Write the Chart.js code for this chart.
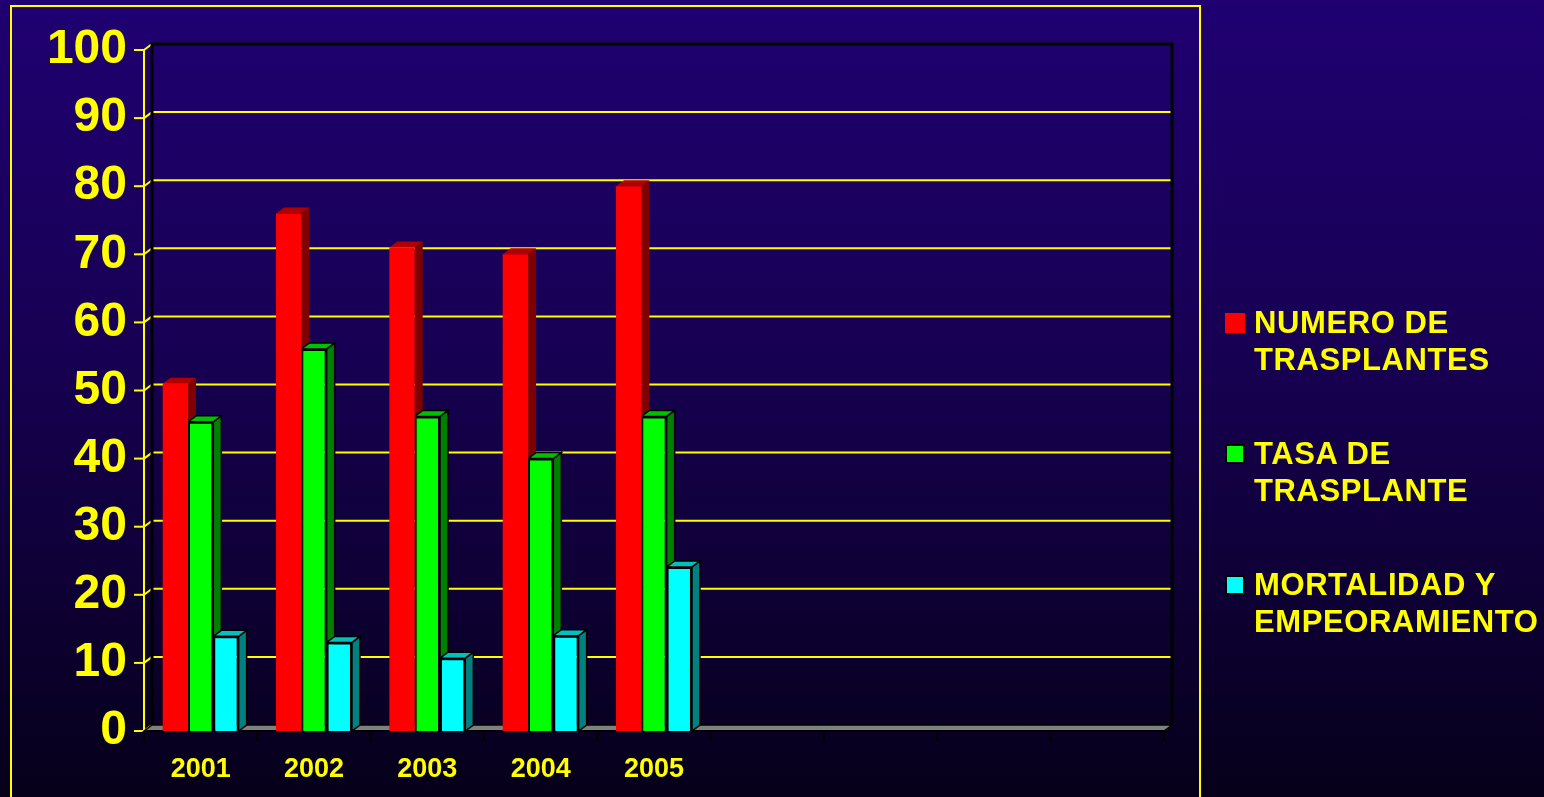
<!DOCTYPE html>
<html lang="es">
<head>
<meta charset="UTF-8">
<title>Trasplantes 2001-2005</title>
<script src="https://cdn.jsdelivr.net/npm/chart.js"></script>
<style>
  html, body {
    margin: 0;
    padding: 0;
    width: 1544px;
    height: 797px;
    overflow: hidden;
    background: linear-gradient(to bottom, #200072 0%, #170052 45%, #06001a 100%);
    font-family: 'Liberation Sans', Arial, sans-serif;
  }
  .frame {
    position: absolute;
    left: 10px;
    top: 5px;
    width: 1187px;
    height: 830px;
    border: 2px solid #ffff00;
  }
  .wrap {
    position: absolute;
    left: 0;
    top: 0;
    width: 1544px;
    height: 797px;
  }
  #legend {
    position: absolute;
    left: 1225px;
    top: 304px;
    color: #ffff00;
    font-weight: bold;
    font-size: 31px;
    line-height: 37px;
    letter-spacing: 0.6px;
  }
  .item {
    position: relative;
    padding-left: 29px;
    height: 74px;
    margin-bottom: 57px;
    white-space: nowrap;
  }
  .box {
    position: absolute;
    left: 0;
    top: 9px;
    width: 20px;
    height: 20px;
    box-sizing: border-box;
  }
</style>
</head>
<body>
<div class="frame"></div>
<div class="wrap"><canvas id="chart"></canvas></div>
<div id="legend"></div>

<script>
  // categories (only the first five have data, the rest are empty slots)
  const years = ['2001', '2002', '2003', '2004', '2005', '', '', '', ''];
  const numeroTrasplantes = [51, 76, 71, 70, 80];
  const tasaTrasplante = [45.4, 56.1, 46.2, 40, 46.2];
  const mortalidad = [13.9, 13, 10.7, 14, 24.1];
  const yTicks = [0, 10, 20, 30, 40, 50, 60, 70, 80, 90, 100];
  const seriesLabels = [
    ['NUMERO DE', 'TRASPLANTES'],
    ['TASA DE', 'TRASPLANTE'],
    ['MORTALIDAD Y', 'EMPEORAMIENTO']
  ];

  const frontColors = ['#ff0000', '#00ff00', '#00ffff'];
  const sideColors = ['#800000', '#008000', '#008080'];
  const topColors = ['#b00000', '#00c000', '#00c0c0'];
  const outlined = [false, true, true];

  // depth of the fake 3D
  const DX = 8, DY = 6;

  function line(ctx, x1, y1, x2, y2) {
    ctx.beginPath();
    ctx.moveTo(x1, y1);
    ctx.lineTo(x2, y2);
    ctx.stroke();
  }

  function poly(ctx, pts, fill, stroke) {
    ctx.beginPath();
    ctx.moveTo(pts[0][0], pts[0][1]);
    for (let i = 1; i < pts.length; i++) ctx.lineTo(pts[i][0], pts[i][1]);
    ctx.closePath();
    ctx.fillStyle = fill;
    ctx.fill();
    if (stroke) {
      ctx.strokeStyle = '#000';
      ctx.lineWidth = 1.5;
      ctx.stroke();
    }
  }

  const depthPlugin = {
    id: 'depth',
    beforeDatasetsDraw(chart) {
      const ctx = chart.ctx;
      const a = chart.chartArea;
      const y = chart.scales.y;
      ctx.save();

      // back wall grid lines + front ticks
      ctx.strokeStyle = '#ffff00';
      ctx.lineWidth = 2;
      yTicks.forEach(v => {
        const py = y.getPixelForValue(v);
        if (v > 0 && v < 100) line(ctx, a.left + DX, py - DY, a.right + DX, py - DY);
        line(ctx, a.left - 10, py, a.left, py);
        line(ctx, a.left, py, a.left + DX, py - DY);
      });
      line(ctx, a.left, a.top, a.left, a.bottom);

      // wall edges
      ctx.strokeStyle = '#000';
      ctx.lineWidth = 3;
      ctx.beginPath();
      ctx.moveTo(a.left + DX, a.bottom - DY);
      ctx.lineTo(a.left + DX, a.top - DY);
      ctx.lineTo(a.right + DX, a.top - DY);
      ctx.lineTo(a.right + DX, a.bottom - DY);
      ctx.stroke();

      // floor
      poly(ctx, [[a.left, a.bottom], [a.left + DX, a.bottom - DY], [a.right + DX, a.bottom - DY], [a.right, a.bottom]], '#808080', true);
      ctx.strokeStyle = '#000';
      ctx.lineWidth = 2;
      line(ctx, a.left, a.bottom, a.right, a.bottom);

      // category tick marks
      const n = years.length;
      for (let i = 0; i <= n; i++) {
        const px = a.left + i * (a.right - a.left) / n;
        line(ctx, px, a.bottom, px, a.bottom + 10);
      }

      // side and top faces of the bars (fronts are drawn afterwards by Chart.js)
      chart.data.datasets.forEach((ds, i) => {
        const meta = chart.getDatasetMeta(i);
        meta.data.forEach(bar => {
          const p = bar.getProps(['x', 'y', 'width', 'base'], true);
          const l = p.x - p.width / 2, r = p.x + p.width / 2;
          poly(ctx, [[r, p.y], [r + DX, p.y - DY], [r + DX, p.base - DY], [r, p.base]], sideColors[i], outlined[i]);
          poly(ctx, [[l, p.y], [l + DX, p.y - DY], [r + DX, p.y - DY], [r, p.y]], topColors[i], outlined[i]);
        });
      });
      ctx.restore();
    }
  };

  const seriesData = [numeroTrasplantes, tasaTrasplante, mortalidad];

  new Chart(document.getElementById('chart'), {
    type: 'bar',
    data: {
      labels: years,
      datasets: seriesData.map((d, i) => ({
        label: seriesLabels[i].join(' '),
        data: d,
        backgroundColor: frontColors[i],
        borderColor: '#000',
        borderWidth: outlined[i] ? 2 : 0,
        categoryPercentage: 0.67,
        barPercentage: 1.0
      }))
    },
    options: {
      responsive: true,
      maintainAspectRatio: false,
      animation: false,
      layout: { padding: { top: 50, right: 380, bottom: 0, left: 0 } },
      plugins: {
        legend: { display: false },
        tooltip: { enabled: false }
      },
      scales: {
        x: {
          grid: { display: false },
          border: { display: false },
          ticks: {
            color: '#ffff00',
            padding: 14,
            maxRotation: 0,
            autoSkip: false,
            font: { family: "'Liberation Sans', Arial, sans-serif", weight: 'bold', size: 27 }
          },
          afterFit(scale) { scale.height = 66; }
        },
        y: {
          min: 0,
          max: 100,
          grid: { display: false },
          border: { display: false },
          ticks: {
            stepSize: 10,
            color: '#ffff00',
            padding: 9,
            font: { family: "'Liberation Sans', Arial, sans-serif", weight: 'bold', size: 48 }
          },
          afterFit(scale) { scale.width = 144; }
        }
      }
    },
    plugins: [depthPlugin]
  });

  // legend with two-line labels
  const legend = document.getElementById('legend');
  seriesLabels.forEach((lines, i) => {
    const item = document.createElement('div');
    item.className = 'item';
    const box = document.createElement('span');
    box.className = 'box';
    box.style.background = frontColors[i];
    if (outlined[i]) box.style.border = '2px solid #000';
    item.appendChild(box);
    lines.forEach(t => {
      const div = document.createElement('div');
      div.textContent = t;
      item.appendChild(div);
    });
    legend.appendChild(item);
  });
</script>
</body>
</html>
